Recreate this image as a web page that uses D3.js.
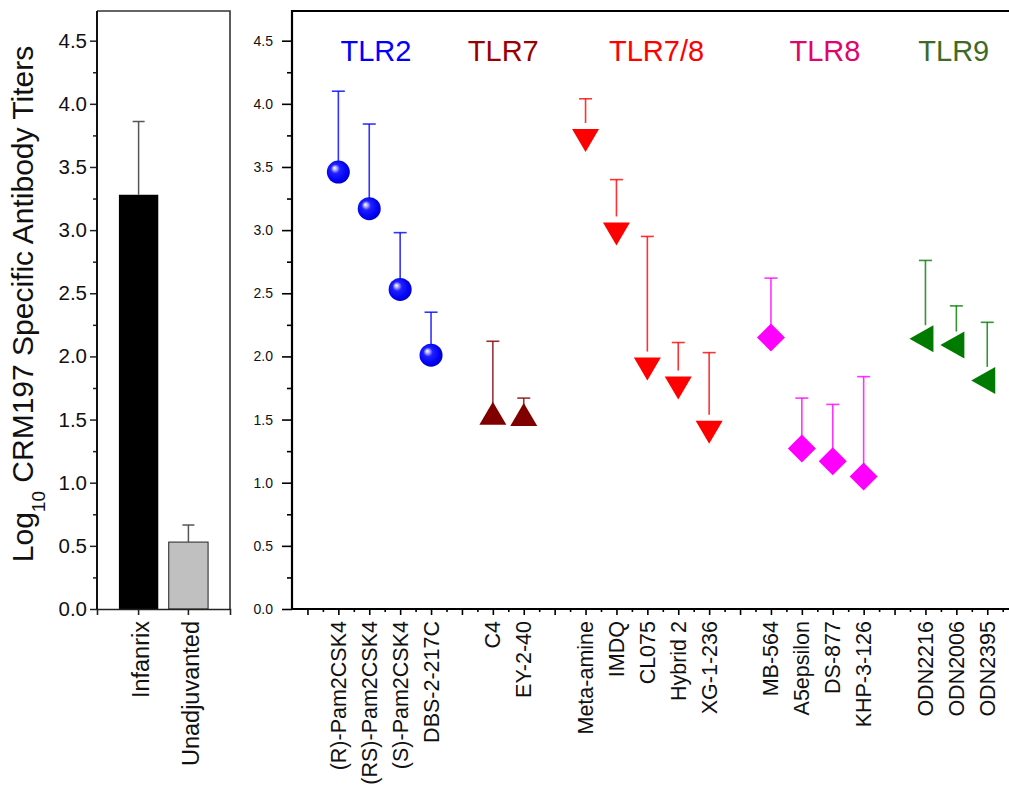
<!DOCTYPE html>
<html>
<head>
<meta charset="utf-8">
<script src="https://cdn.jsdelivr.net/npm/d3@7"></script>
<style>
  body { margin: 0; background: #fff; }
  svg { display: block; }
  text { font-family: Arial, "Liberation Sans", sans-serif; }
</style>
</head>
<body>
<svg id="chart" width="1009" height="785"></svg>
<script>
// ---- Control groups (left panel) ----
const controlNames = ["Infanrix", "Unadjuvanted"];
const controlMeans = [3.28, 0.53];
const controlSD = [0.58, 0.135];

// ---- Adjuvant groups (right panel) ----
// Axis slots in order; empty strings are spacer slots between receptor families
const axisSlots = ["", "(R)-Pam2CSK4", "(RS)-Pam2CSK4", "(S)-Pam2CSK4", "DBS-2-217C", "",
  "C4", "EY-2-40", "", "Meta-amine", "IMDQ", "CL075", "Hybrid 2", "XG-1-236", "",
  "MB-564", "A5epsilon", "DS-877", "KHP-3-126", "", "ODN2216", "ODN2006", "ODN2395"];
const compounds = ["(R)-Pam2CSK4", "(RS)-Pam2CSK4", "(S)-Pam2CSK4", "DBS-2-217C",
  "C4", "EY-2-40", "Meta-amine", "IMDQ", "CL075", "Hybrid 2", "XG-1-236",
  "MB-564", "A5epsilon", "DS-877", "KHP-3-126", "ODN2216", "ODN2006", "ODN2395"];
const receptorOf = ["TLR2", "TLR2", "TLR2", "TLR2", "TLR7", "TLR7",
  "TLR7/8", "TLR7/8", "TLR7/8", "TLR7/8", "TLR7/8",
  "TLR8", "TLR8", "TLR8", "TLR8", "TLR9", "TLR9", "TLR9"];
const means = [3.46, 3.17, 2.53, 2.01, 1.52, 1.51, 3.74, 3.00, 1.93, 1.78, 1.43,
  2.15, 1.27, 1.17, 1.05, 2.14, 2.09, 1.81];
const sds = [0.64, 0.67, 0.45, 0.34, 0.60, 0.16, 0.30, 0.40, 1.02, 0.33, 0.60,
  0.47, 0.40, 0.45, 0.79, 0.62, 0.31, 0.46];

const receptorNames = ["TLR2", "TLR7", "TLR7/8", "TLR8", "TLR9"];
const receptorLabelSlot = [1.07, 5.19, 9.76, 15.6, 19.77];

const majorTicks = [0, 0.5, 1.0, 1.5, 2.0, 2.5, 3.0, 3.5, 4.0, 4.5];
const minorTicks = [0.25, 0.75, 1.25, 1.75, 2.25, 2.75, 3.25, 3.75, 4.25, 4.75];

// ---- Styles per receptor family ----
const style = {
  "TLR2":   { color: "#0000ff", text: "#0000ff", shape: "sphere" },
  "TLR7":   { color: "#800000", text: "#9a0000", shape: "up" },
  "TLR7/8": { color: "#ff0000", text: "#ff0000", shape: "down" },
  "TLR8":   { color: "#ff00ff", text: "#e0046e", shape: "diamond" },
  "TLR9":   { color: "#007a00", text: "#3d6b25", shape: "left" }
};

const svg = d3.select("#chart");
const defs = svg.append("defs");
const grad = defs.append("radialGradient").attr("id", "ball")
  .attr("cx", "45%").attr("cy", "45%").attr("r", "58%")
  .attr("fx", "33%").attr("fy", "32%");
grad.append("stop").attr("offset", "0%").attr("stop-color", "#ffffff");
grad.append("stop").attr("offset", "12%").attr("stop-color", "#c0c0ff");
grad.append("stop").attr("offset", "35%").attr("stop-color", "#2020ff");
grad.append("stop").attr("offset", "80%").attr("stop-color", "#0000f4");
grad.append("stop").attr("offset", "100%").attr("stop-color", "#0000c0");

// Shared value scale
const y = d3.scaleLinear().domain([0, 4.735]).range([609, 11]);

// ================= Left panel =================
const L = { x0: 97, x1: 230 };
const xL = d3.scaleBand().domain(controlNames).range([L.x0, L.x1])
  .paddingInner(0.21).paddingOuter(0.44);
const left = svg.append("g");

left.selectAll("rect.bar").data(controlNames).join("rect")
  .attr("class", "bar")
  .attr("x", d => xL(d))
  .attr("width", xL.bandwidth())
  .attr("y", (d, i) => y(controlMeans[i]))
  .attr("height", (d, i) => y(0) - y(controlMeans[i]))
  .attr("fill", (d, i) => i === 0 ? "#000" : "#c0c0c0")
  .attr("stroke", (d, i) => i === 0 ? "none" : "#222")
  .attr("stroke-width", 1);

controlNames.forEach((d, i) => {
  const cx = xL(d) + xL.bandwidth() / 2;
  const top = y(controlMeans[i] + controlSD[i]);
  left.append("line").attr("x1", cx).attr("x2", cx)
    .attr("y1", y(controlMeans[i])).attr("y2", top)
    .attr("stroke", "#555").attr("stroke-width", 1.5);
  left.append("line").attr("x1", cx - 6).attr("x2", cx + 6)
    .attr("y1", top).attr("y2", top)
    .attr("stroke", "#555").attr("stroke-width", 1.5);
});

// frame
left.append("path")
  .attr("d", `M${L.x0},${y.range()[1]}H${L.x1}V${y(0)}`)
  .attr("fill", "none").attr("stroke", "#333").attr("stroke-width", 1.6);

const lyMinor = left.append("g").attr("transform", `translate(${L.x0},0)`)
  .call(d3.axisLeft(y).tickValues(minorTicks.filter(v => v < 4.735)).tickSize(4).tickFormat(""));
const lyMajor = left.append("g").attr("transform", `translate(${L.x0},0)`)
  .call(d3.axisLeft(y).tickValues(majorTicks).tickSize(7).tickPadding(3).tickFormat(d3.format(".1f")));
[lyMinor, lyMajor].forEach(g => {
  g.select(".domain").remove();
  g.selectAll("line").attr("stroke", "#222").attr("stroke-width", 1.5);
});
lyMajor.selectAll("text").attr("font-size", 20.5).attr("fill", "#111")
  .attr("font-family", "Arial, 'Liberation Sans', sans-serif");
left.append("line").attr("x1", L.x0).attr("x2", L.x0)
  .attr("y1", y.range()[1]).attr("y2", y(0))
  .attr("stroke", "#111").attr("stroke-width", 2);

const lx = left.append("g").attr("transform", `translate(0,${y(0)})`)
  .call(d3.axisBottom(xL).tickSize(6).tickSizeOuter(6).tickFormat(""));
lx.selectAll("path, line").attr("stroke", "#222").attr("stroke-width", 1.6);

left.selectAll("text.cat").data(controlNames).join("text")
  .attr("class", "cat")
  .attr("transform", d => `translate(${xL(d) + xL.bandwidth() / 2 + 2},621) rotate(-90)`)
  .attr("text-anchor", "end").attr("dy", "0.35em")
  .attr("font-size", 23.5).attr("fill", "#111")
  .text(d => d);

// y-axis title
const title = svg.append("text")
  .attr("transform", "translate(33,304) rotate(-90)")
  .attr("text-anchor", "middle").attr("font-size", 30).attr("fill", "#111");
title.append("tspan").text("Log");
title.append("tspan").attr("font-size", 19).attr("dy", 12).text("10");
title.append("tspan").attr("dy", -12).text(" CRM197 Specific Antibody Titers");

// ================= Right panel =================
const R0 = 292;
const slotW = 30.9;
const xR = d3.scaleLinear().domain([-0.5, 23]).range([R0, R0 + 23.5 * slotW]);
const right = svg.append("g");

right.append("line").attr("x1", R0).attr("x2", 1009)
  .attr("y1", y.range()[1]).attr("y2", y.range()[1])
  .attr("stroke", "#000").attr("stroke-width", 2);

const ryMinor = right.append("g").attr("transform", `translate(${R0},0)`)
  .call(d3.axisLeft(y).tickValues(minorTicks.filter(v => v < 4.735)).tickSize(5).tickFormat(""));
const ryMajor = right.append("g").attr("transform", `translate(${R0},0)`)
  .call(d3.axisLeft(y).tickValues(majorTicks).tickSize(10).tickPadding(9).tickFormat(d3.format(".1f")));
[ryMinor, ryMajor].forEach(g => {
  g.select(".domain").remove();
  g.selectAll("line").attr("stroke", "#000").attr("stroke-width", 1.6);
});
ryMajor.selectAll("text").attr("font-size", 14).attr("fill", "#111")
  .attr("font-family", "Arial, 'Liberation Sans', sans-serif");
right.append("line").attr("x1", R0).attr("x2", R0)
  .attr("y1", y.range()[1] - 1).attr("y2", y(0) + 1)
  .attr("stroke", "#000").attr("stroke-width", 2.2);

const slotIdx = d3.range(axisSlots.length + 1);
const rxMinor = right.append("g").attr("transform", `translate(0,${y(0)})`)
  .call(d3.axisBottom(xR).tickValues(slotIdx.map(i => i - 0.5).filter(v => v > -0.5)).tickSize(3).tickFormat(""));
const rxMajor = right.append("g").attr("transform", `translate(0,${y(0)})`)
  .call(d3.axisBottom(xR).tickValues(slotIdx).tickSize(6).tickFormat(""));
[rxMinor, rxMajor].forEach(g => {
  g.select(".domain").remove();
  g.selectAll("line").attr("stroke", "#000").attr("stroke-width", 1.6);
});
right.append("line").attr("x1", R0).attr("x2", 1009)
  .attr("y1", y(0)).attr("y2", y(0))
  .attr("stroke", "#000").attr("stroke-width", 2);

right.selectAll("text.cat").data(axisSlots.map((s, i) => ({ s, i })).filter(d => d.s))
  .join("text").attr("class", "cat")
  .attr("transform", d => `translate(${xR(d.i)},621) rotate(-90)`)
  .attr("text-anchor", "end").attr("dy", "0.35em")
  .attr("font-size", 21.5).attr("fill", "#111")
  .text(d => d.s);

// receptor family headings
right.selectAll("text.head").data(receptorNames).join("text")
  .attr("class", "head")
  .attr("x", (d, i) => xR(receptorLabelSlot[i]))
  .attr("y", 61)
  .attr("font-size", 29)
  .attr("fill", d => style[d].text)
  .text(d => d);

// markers
const TRI_W = 27, TRI_H = 23;
function markerPath(shape) {
  const w = TRI_W, h = TRI_H;
  if (shape === "down") return `M${-w / 2},${-h / 3}L${w / 2},${-h / 3}L0,${2 * h / 3}Z`;
  if (shape === "up") return `M${-w / 2},${h / 3}L${w / 2},${h / 3}L0,${-2 * h / 3}Z`;
  if (shape === "left") return `M${w / 3 - 1},${-w / 2}L${w / 3 - 1},${w / 2}L${-2 * w / 3 + 2},0Z`;
  if (shape === "diamond") return "M0,-14L14,0L0,14L-14,0Z";
  return null;
}
// where the error stem begins, measured upward from the point centre
function stemStart(shape) {
  if (shape === "down") return TRI_H / 3 + 6;
  if (shape === "left") return 13.5;
  return 0;
}

const pts = compounds.map((c, i) => ({
  c, r: receptorOf[i], m: means[i], sd: sds[i], slot: axisSlots.indexOf(c)
}));

const err = right.append("g");
pts.forEach(p => {
  const st = style[p.r];
  const cx = xR(p.slot);
  const top = y(p.m + p.sd);
  const y0 = y(p.m) - stemStart(st.shape);
  err.append("line").attr("x1", cx).attr("x2", cx).attr("y1", y0).attr("y2", top)
    .attr("stroke", st.color).attr("stroke-opacity", 0.8).attr("stroke-width", 1.6);
  err.append("line").attr("x1", cx - 6.5).attr("x2", cx + 6.5).attr("y1", top).attr("y2", top)
    .attr("stroke", st.color).attr("stroke-opacity", 0.8).attr("stroke-width", 1.6);
});

const mk = right.append("g");
pts.forEach(p => {
  const st = style[p.r];
  const g = mk.append("g").attr("transform", `translate(${xR(p.slot)},${y(p.m)})`);
  if (st.shape === "sphere") {
    g.append("circle").attr("r", 11.5).attr("fill", "url(#ball)");
  } else {
    g.append("path").attr("d", markerPath(st.shape)).attr("fill", st.color);
  }
});
</script>
</body>
</html>
